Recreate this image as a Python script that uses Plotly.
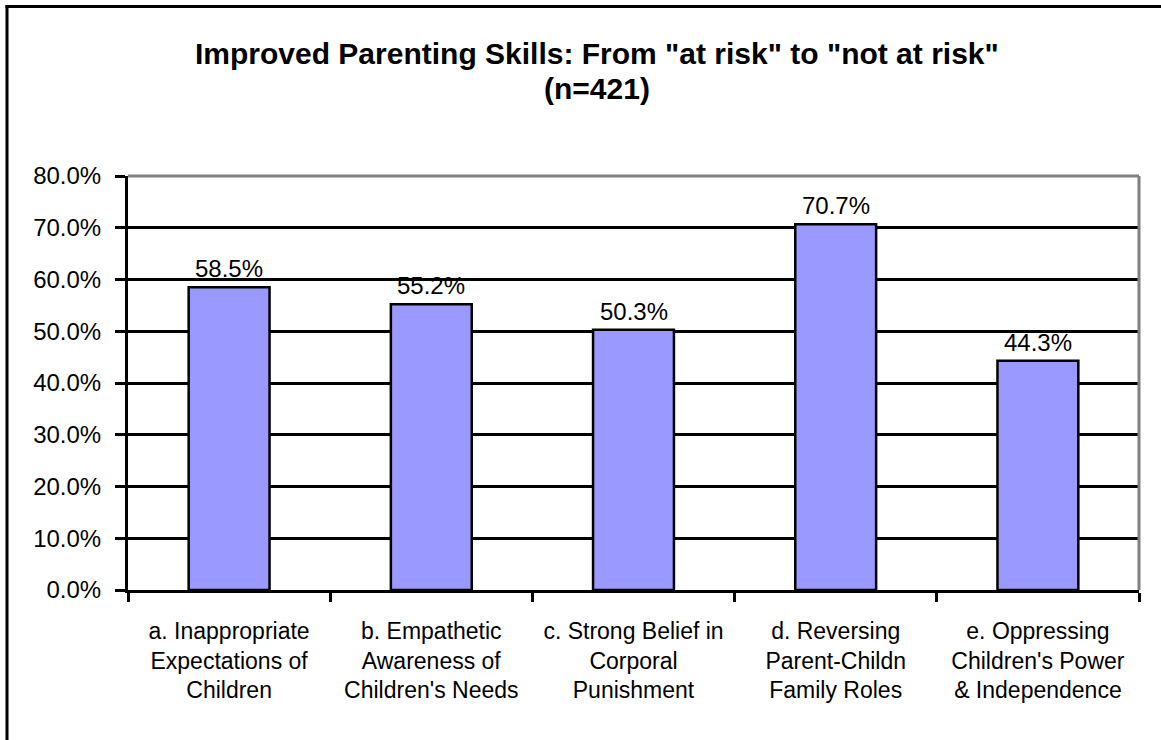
import plotly.graph_objects as go

# Share of parents moving from "at risk" to "not at risk", by parenting construct
categories = [
    "a. Inappropriate<br>Expectations of<br>Children",
    "b. Empathetic<br>Awareness of<br>Children's Needs",
    "c. Strong Belief in<br>Corporal<br>Punishment",
    "d. Reversing<br>Parent-Childn<br>Family Roles",
    "e. Oppressing<br>Children's Power<br>& Independence",
]
percent_improved = [58.5, 55.2, 50.3, 70.7, 44.3]
y_ticks = [0, 10, 20, 30, 40, 50, 60, 70, 80]
title_lines = ['Improved Parenting Skills: From "at risk" to "not at risk"', "(n=421)"]

FONT = "Arial, Liberation Sans, sans-serif"
W, H = 1161, 740
L, R, T, B = 128, 22, 176, 150
plot_w, plot_h = W - L - R, H - T - B


def px_x(px):
    return (px - L) / plot_w


def px_y(py):
    return (H - B - py) / plot_h


fig = go.Figure()
fig.add_trace(go.Bar(
    x=categories,
    y=percent_improved,
    marker=dict(color="#9999FF", line=dict(color="black", width=2.5)),
    width=0.4,
    hoverinfo="skip",
))

# value labels above each bar
for cat, v in zip(categories, percent_improved):
    fig.add_annotation(
        x=cat, y=v, text=f"{v:.1f}%", showarrow=False,
        yanchor="bottom", yshift=3,
        font=dict(family=FONT, size=24, color="black"),
    )

# two-line bold title
for line, cy in zip(title_lines, [53, 89]):
    fig.add_annotation(
        xref="paper", yref="paper", x=px_x(597), y=px_y(cy),
        xanchor="center", yanchor="middle", showarrow=False,
        text=f"<b>{line}</b>",
        font=dict(family=FONT, size=30, color="black"),
    )

fig.update_layout(
    width=W, height=H,
    margin=dict(l=L, r=R, t=T, b=B),
    paper_bgcolor="white", plot_bgcolor="white",
    showlegend=False,
    font=dict(family=FONT, color="black"),
    bargap=0.6,
)

fig.update_xaxes(
    showline=True, linecolor="black", linewidth=3,
    ticks="outside", tickson="boundaries", ticklen=9, tickwidth=3, tickcolor="black",
    tickfont=dict(family=FONT, size=23, color="black"),
    ticklabelstandoff=18,
    showgrid=False, zeroline=False, fixedrange=True,
)
fig.update_yaxes(
    range=[0, 80], tickvals=y_ticks,
    ticktext=[f"{t:.1f}%" for t in y_ticks],
    showline=True, linecolor="black", linewidth=3,
    ticks="outside", ticklen=10, tickwidth=3, tickcolor="black",
    tickfont=dict(family=FONT, size=24, color="black"),
    ticklabelstandoff=9,
    showgrid=True, gridcolor="black", gridwidth=3,
    zeroline=False, fixedrange=True,
)

# gray frame on the top and right of the plot area
fig.add_shape(type="line", xref="paper", yref="paper", x0=0, x1=1, y0=1, y1=1,
              line=dict(color="#808080", width=3), layer="above")
fig.add_shape(type="line", xref="paper", yref="paper", x0=1, x1=1, y0=0, y1=1,
              line=dict(color="#808080", width=3), layer="above")

# outer chart border: top and left edges
fig.add_shape(type="line", xref="paper", yref="paper",
              x0=px_x(5.5), x1=1 + R / plot_w, y0=px_y(6.5), y1=px_y(6.5),
              line=dict(color="black", width=3), layer="above")
fig.add_shape(type="line", xref="paper", yref="paper",
              x0=px_x(7), x1=px_x(7), y0=px_y(5), y1=-B / plot_h,
              line=dict(color="black", width=3), layer="above")

fig.write_html("out.html", config={"displayModeBar": False})
